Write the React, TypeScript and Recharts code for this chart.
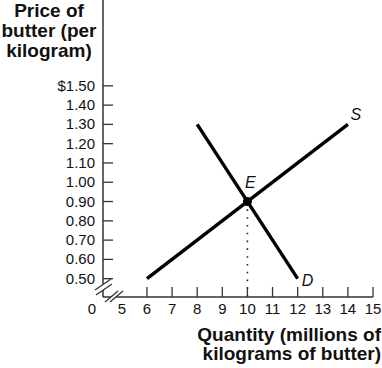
import { ComposedChart, Line, XAxis, YAxis, ReferenceDot, ReferenceLine } from "recharts"

// supply curve S
const supplyQty = [6, 14]
const supplyPrice = [0.5, 1.3]
// demand curve D
const demandQty = [8, 12]
const demandPrice = [1.3, 0.5]
// equilibrium E
const eqQty = 10
const eqPrice = 0.9

const xTicks = [5, 6, 7, 8, 9, 10, 11, 12, 13, 14, 15]
const yTicks = [0.5, 0.6, 0.7, 0.8, 0.9, 1.0, 1.1, 1.2, 1.3, 1.4, 1.5]
const xDomain = [4.25, 15]
const yDomain = [0.405, 1.945]

const supplyData = supplyQty.map((q, i) => ({ q, p: supplyPrice[i] }))
const demandData = demandQty.map((q, i) => ({ q, p: demandPrice[i] }))

const font = "'Liberation Sans', Arial, Helvetica, sans-serif"
const axisColor = "#333"
const textColor = "#111"

const XTick = (props: any) => {
  const { x, y, payload } = props
  return (
    <g>
      {payload.value !== 5 && <line x1={x} x2={x} y1={y - 10} y2={y} stroke={axisColor} strokeWidth={1.3} />}
      <text x={x} y={y + 17} textAnchor="middle" fontSize={15} fontFamily={font} fill={textColor}>
        {payload.value}
      </text>
    </g>
  )
}

const YTick = (props: any) => {
  const { x, y, payload } = props
  const label = (payload.value === 1.5 ? "$" : "") + Number(payload.value).toFixed(2)
  return (
    <g>
      <line x1={x} x2={x + 10} y1={y} y2={y} stroke={axisColor} strokeWidth={1.3} />
      <text x={x - 8} y={y + 5} textAnchor="end" fontSize={15} fontFamily={font} fill={textColor}>
        {label}
      </text>
    </g>
  )
}

const endLabel = (name: string, count: number, dx: number, dy: number) => (props: any) => {
  const { x, y, index } = props
  if (index !== count - 1) return <g />
  return (
    <text x={x + dx} y={y + dy} fontSize={16} fontStyle="italic" fontFamily={font} fill={textColor} textAnchor="middle">
      {name}
    </text>
  )
}

export default function App() {
  return (
    <div style={{ position: "absolute", left: 0, top: 0, width: 382, height: 368, background: "#fff" }}>
      <ComposedChart width={382} height={368} margin={{ top: 0, right: 9, bottom: 41, left: 43 }}>
        <XAxis
          type="number"
          dataKey="q"
          domain={xDomain}
          ticks={xTicks}
          interval={0}
          allowDataOverflow
          height={30}
          tickSize={0}
          tickMargin={0}
          tickLine={false}
          axisLine={{ stroke: axisColor, strokeWidth: 1.5 }}
          tick={<XTick />}
        />
        <YAxis
          type="number"
          dataKey="p"
          domain={yDomain}
          ticks={yTicks}
          interval={0}
          allowDataOverflow
          width={60}
          tickSize={0}
          tickMargin={0}
          tickLine={false}
          axisLine={{ stroke: axisColor, strokeWidth: 1.5 }}
          tick={<YTick />}
        />
        <ReferenceLine
          segment={[{ x: eqQty, y: eqPrice }, { x: eqQty, y: yDomain[0] }]}
          stroke="#222"
          strokeWidth={1.6}
          strokeDasharray="1.6 6.2"
        />
        <Line
          data={supplyData}
          dataKey="p"
          stroke="#000"
          strokeWidth={3.4}
          dot={false}
          isAnimationActive={false}
          label={endLabel("S", supplyData.length, 8, -4)}
        />
        <Line
          data={demandData}
          dataKey="p"
          stroke="#000"
          strokeWidth={3.4}
          dot={false}
          isAnimationActive={false}
          label={endLabel("D", demandData.length, 10, 7)}
        />
        <ReferenceDot
          x={eqQty}
          y={eqPrice}
          r={4.5}
          fill="#000"
          stroke="none"
          label={{ value: "E", position: "top", offset: 9, fontSize: 16, fontStyle: "italic", fontFamily: font, fill: textColor, dx: 3 }}
        />
      </ComposedChart>
      <svg width={382} height={368} style={{ position: "absolute", left: 0, top: 0, pointerEvents: "none" }}>
        {/* axis breaks */}
        <polygon points="95,290 111,279 112,284 96,295" fill="#fff" />
        <line x1={95} y1={290} x2={111} y2={279} stroke={axisColor} strokeWidth={1.3} />
        <line x1={96} y1={295} x2={112} y2={284} stroke={axisColor} strokeWidth={1.3} />
        <polygon points="105,302 118,291 123,291 110,302" fill="#fff" />
        <line x1={105} y1={302} x2={118} y2={291} stroke={axisColor} strokeWidth={1.3} />
        <line x1={110} y1={302} x2={123} y2={291} stroke={axisColor} strokeWidth={1.3} />
        <text x={92} y={314} textAnchor="middle" fontSize={15} fontFamily={font} fill={textColor}>0</text>
        <text textAnchor="middle" fontSize={19} fontWeight="bold" fontFamily={font} fill={textColor}>
          <tspan x={49} y={17}>Price of</tspan>
          <tspan x={49} y={37}>butter (per</tspan>
          <tspan x={49} y={57}>kilogram)</tspan>
        </text>
        <text textAnchor="end" fontSize={19} fontWeight="bold" fontFamily={font} fill={textColor}>
          <tspan x={381} y={341}>Quantity (millions of</tspan>
          <tspan x={381} y={360}>kilograms of butter)</tspan>
        </text>
      </svg>
    </div>
  )
}
